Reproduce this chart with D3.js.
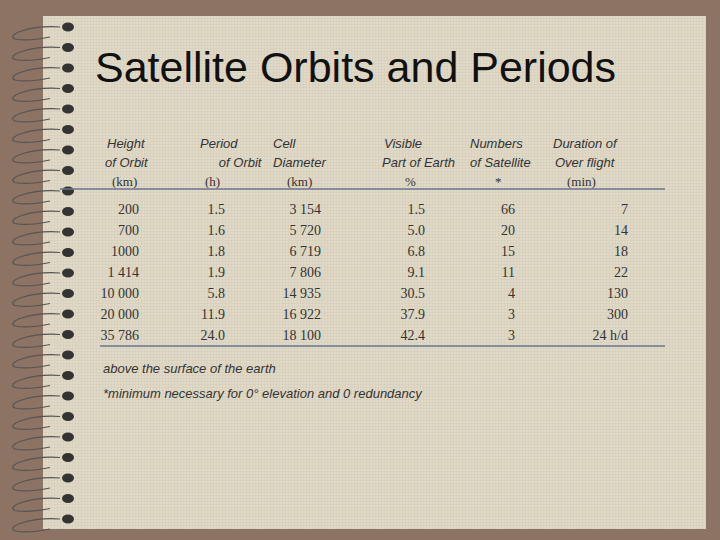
<!DOCTYPE html><html><head><meta charset="utf-8"><script src="https://cdn.jsdelivr.net/npm/d3@7"></script>
<style>body{margin:0}</style></head><body><svg id="c" width="720" height="540"></svg>
<script>
const heights=["200","700","1000","1 414","10 000","20 000","35 786"];
const periods=["1.5","1.6","1.8","1.9","5.8","11.9","24.0"];
const cells=["3 154","5 720","6 719","7 806","14 935","16 922","18 100"];
const visible=["1.5","5.0","6.8","9.1","30.5","37.9","42.4"];
const numbers=["66","20","15","11","4","3","3"];
const durations=["7","14","18","22","130","300","24 h/d"];
const headers=[["Height","of Orbit","(km)"],["Period","   of Orbit","(h)"],["Cell","Diameter","(km)"],["Visible","Part of Earth","%"],["Numbers","of Satellite","*"],["Duration of","Over flight","(min)"]];
const colRight=[139,225,321,425,515,628];
const headX=[[107,105,112],[200,208,205],[273,273,287],[384,382,405],[470,470,495],[553,555,567]];
const columns=[heights,periods,cells,visible,numbers,durations];
const svg=d3.select("#c");
svg.append("rect").attr("width",720).attr("height",540).attr("fill","#8d7363");
svg.append("rect").attr("x",43).attr("y",16).attr("width",663).attr("height",513).attr("fill","#e0d9c7");
const defs=svg.append("defs");
const p=defs.append("pattern").attr("id","tx").attr("width",3).attr("height",3).attr("patternUnits","userSpaceOnUse");
p.append("rect").attr("width",3).attr("height",1).attr("fill","#c9bfa8").attr("opacity",0.25);
p.append("rect").attr("width",1).attr("height",3).attr("fill","#c9bfa8").attr("opacity",0.25);
svg.append("rect").attr("x",43).attr("y",16).attr("width",663).attr("height",513).attr("fill","url(#tx)");
const ringY=d3.range(27,525,20.5);
ringY.forEach(y=>{
 svg.append("path").attr("d",`M60,${y} C30,${y-2} 5,${y+8} 15,${y+12} C25,${y+14} 40,${y+12} 50,${y+10}`).attr("fill","none").attr("stroke","#555").attr("stroke-width",1.2);
 svg.append("ellipse").attr("cx",68).attr("cy",y).attr("rx",6).attr("ry",4.5).attr("fill","#333");
});
svg.append("text").attr("x",95).attr("y",82).attr("font-family","Liberation Sans, Arial").attr("font-size",43).attr("fill","#111").text("Satellite Orbits and Periods");
const yH=d3.scaleBand().domain([0,1,2]).range([135,192]);
headers.forEach((h,i)=>h.forEach((t,j)=>{
 svg.append("text").attr("x",headX[i][j]).attr("y",yH(j)+13).attr("font-family",j==2?"Liberation Serif":"Liberation Sans").attr("font-style",j==2?"normal":"italic").attr("font-size",13).attr("fill","#333").attr("xml:space","preserve").text(t);
}));
svg.append("line").attr("x1",60).attr("x2",665).attr("y1",189).attr("y2",189).attr("stroke","#6b7590").attr("stroke-width",1.5);
svg.append("line").attr("x1",100).attr("x2",665).attr("y1",346).attr("y2",346).attr("stroke","#6b7590").attr("stroke-width",1.5);
const yR=d3.scaleBand().domain(d3.range(7)).range([198,345]);
columns.forEach((col,c)=>{
 svg.selectAll(null).data(col).join("text").attr("x",colRight[c]).attr("y",(d,i)=>yR(i)+16).attr("text-anchor","end")
 .attr("font-family","Liberation Serif").attr("font-size",14).attr("fill","#333").text(d=>d);
});
svg.append("text").attr("x",103).attr("y",373).attr("font-family","Liberation Sans").attr("font-style","italic").attr("font-size",13).attr("fill","#333").text("above the surface of the earth");
svg.append("text").attr("x",103).attr("y",398).attr("font-family","Liberation Sans").attr("font-style","italic").attr("font-size",13).attr("fill","#333").text("*minimum necessary for 0° elevation and 0 redundancy");
</script></body></html>
